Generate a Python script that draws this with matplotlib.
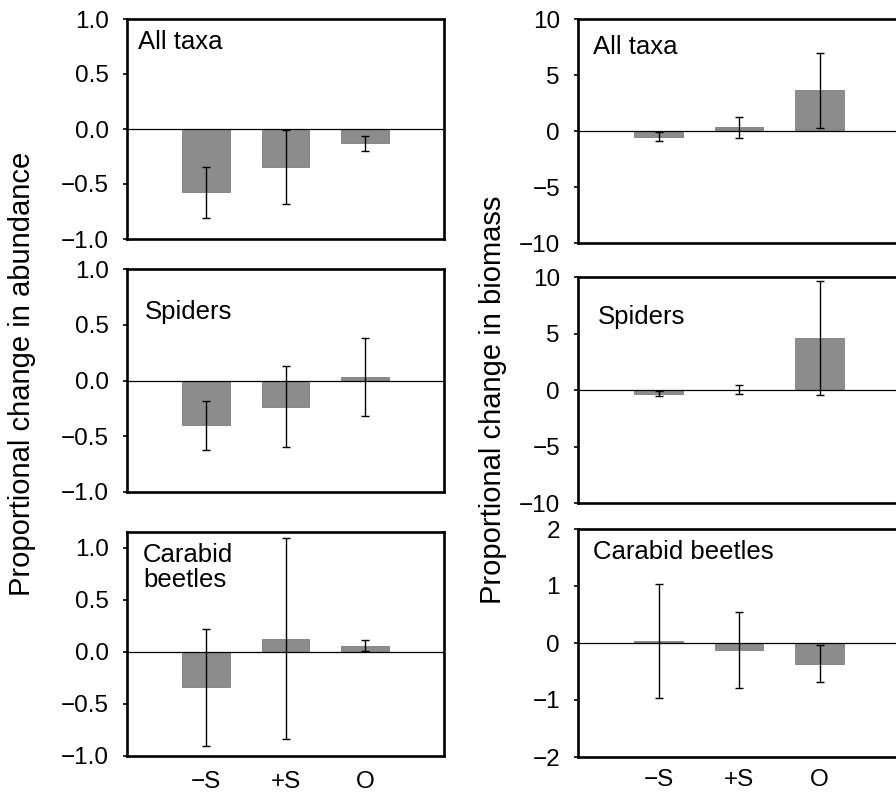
import numpy as np
import matplotlib
matplotlib.use('Agg')
import matplotlib.pyplot as plt

plt.rcParams['font.family'] = ['Liberation Sans', 'DejaVu Sans']

cats = ['\u2212S', '+S', 'O']

# proportional change in abundance (mean, error)
abund_all = [-0.575, -0.345, -0.13]
abund_all_err = [0.23, 0.335, 0.07]
abund_spiders = [-0.40, -0.235, 0.03]
abund_spiders_err = [0.22, 0.365, 0.35]
abund_carabid = [-0.34, 0.125, 0.06]
abund_carabid_err = [0.56, 0.965, 0.056]

# proportional change in biomass (mean, error)
bio_all = [-0.5, 0.33, 3.65]
bio_all_err = [0.4, 0.92, 3.35]
bio_spiders = [-0.32, 0.02, 4.6]
bio_spiders_err = [0.23, 0.4, 5.05]
bio_carabid = [0.03, -0.125, -0.36]
bio_carabid_err = [1.0, 0.665, 0.32]

W, H = 896, 797
fig = plt.figure(figsize=(W / 100, H / 100), dpi=100)


def add_ax(x0, y0, x1, y1):
    # pixel box -> figure fraction
    return fig.add_axes([x0 / W, 1 - y1 / H, (x1 - x0) / W, (y1 - y0) / H])


def fmt(v, dec):
    s = '{:.{}f}'.format(abs(v), dec)
    return ('\u2212' + s) if v < 0 else s


def panel(ax, vals, errs, ylim, yticks, dec, label, lx, ly, bottom, xpad=12):
    x = np.arange(1, len(vals) + 1)
    ax.bar(x, vals, width=0.6, color='#8c8c8c', edgecolor='#6e6e6e', linewidth=0.5, zorder=2)
    ax.errorbar(x, vals, yerr=errs, fmt='none', ecolor='black', elinewidth=1.0,
                capsize=3, capthick=1.0, zorder=3)
    ax.axhline(0, color='black', lw=0.9, zorder=4)
    ax.set_xlim(0, 4)
    ax.set_ylim(*ylim)
    ax.set_yticks(yticks)
    ax.set_yticklabels([fmt(t, dec) for t in yticks])
    ax.tick_params(axis='y', direction='out', length=3, width=1.2, pad=10, labelsize=17.5)
    if bottom:
        ax.set_xticks(x)
        ax.set_xticklabels(cats)
        ax.tick_params(axis='x', length=0, pad=xpad, labelsize=17.5)
    else:
        ax.set_xticks([])
    for sp in ax.spines.values():
        sp.set_linewidth(1.9)
    ax.text(lx, ly, label, transform=ax.transAxes, fontsize=18.5, va='center', ha='left',
            linespacing=1.05)


ab_ticks = [-1.0, -0.5, 0.0, 0.5, 1.0]
bio_ticks = [-10, -5, 0, 5, 10]

ax1 = add_ax(127, 19, 444, 239)
panel(ax1, abund_all, abund_all_err, (-1, 1), ab_ticks, 1, 'All taxa', 0.035, 0.895, False)
ax2 = add_ax(127, 269, 444, 492)
panel(ax2, abund_spiders, abund_spiders_err, (-1, 1), ab_ticks, 1, 'Spiders', 0.057, 0.807, False)
ax3 = add_ax(127, 532, 444, 756)
panel(ax3, abund_carabid, abund_carabid_err, (-1, 1.15), ab_ticks, 1, 'Carabid\nbeetles', 0.05, 0.84, True, 11)

ax4 = add_ax(578, 19, 900, 243)
panel(ax4, bio_all, bio_all_err, (-10, 10), bio_ticks, 0, 'All taxa', 0.047, 0.875, False)
ax5 = add_ax(578, 277, 900, 503)
panel(ax5, bio_spiders, bio_spiders_err, (-10, 10), bio_ticks, 0, 'Spiders', 0.062, 0.823, False)
ax6 = add_ax(578, 529, 900, 757)
panel(ax6, bio_carabid, bio_carabid_err, (-2, 2), [-2, -1, 0, 1, 2], 0, 'Carabid beetles', 0.047, 0.9, True, 9)

fig.text(22 / W, 1 - 374 / H, 'Proportional change in abundance', rotation=90,
         ha='center', va='center', fontsize=21)
fig.text(493 / W, 1 - 400 / H, 'Proportional change in biomass', rotation=90,
         ha='center', va='center', fontsize=21)

fig.savefig('out.png', dpi=100)
